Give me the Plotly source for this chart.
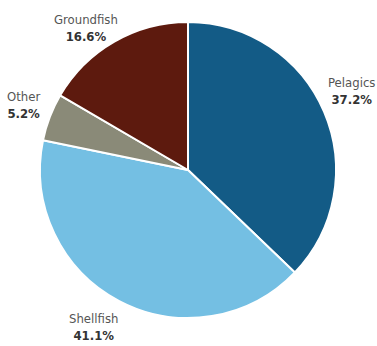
import math
import plotly.graph_objects as go

categories = ["Pelagics", "Shellfish", "Other", "Groundfish"]
values = [37.2, 41.1, 5.2, 16.6]
colors = ["#135b86", "#74bfe3", "#8a8a78", "#5d1a0e"]

W, H = 377, 346
CX, CY, R = 188, 170, 148
LABEL_R = 180
# small pixel nudges for label placement (styling only)
nudge = {"Pelagics": (-2, -8), "Shellfish": (-11, -2), "Other": (4, -1), "Groundfish": (-12, 14)}

fig = go.Figure(go.Pie(
    labels=categories,
    values=values,
    sort=False,
    direction="clockwise",
    rotation=0,
    marker=dict(colors=colors, line=dict(color="white", width=2)),
    textinfo="none",
    showlegend=False,
    hoverinfo="label+percent",
    domain=dict(x=[(CX - R) / W, (CX + R) / W], y=[1 - (CY + R) / H, 1 - (CY - R) / H]),
))

font = "DejaVu Sans Condensed, Liberation Sans Narrow, Arial Narrow, sans-serif"
total = sum(values)
cum = 0.0
for name, v in zip(categories, values):
    mid = (cum + v / 2) / total * 2 * math.pi
    cum += v
    dx, dy = nudge[name]
    px = CX + LABEL_R * math.sin(mid) + dx
    py = CY - LABEL_R * math.cos(mid) + dy
    fig.add_annotation(
        x=px / W, y=1 - py / H, xref="paper", yref="paper",
        text=f"<span style='color:#555'>{name}</span><br><b>{v:.1f}%</b>",
        showarrow=False, xanchor="center", yanchor="middle",
        font=dict(family=font, size=13, color="#333"),
        align="center",
    )

fig.update_layout(
    width=W, height=H,
    margin=dict(l=0, r=0, t=0, b=0),
    paper_bgcolor="white",
    plot_bgcolor="white",
)
fig.write_html("out.html", config={"displayModeBar": False},
               post_script="document.body.style.margin='0';")
